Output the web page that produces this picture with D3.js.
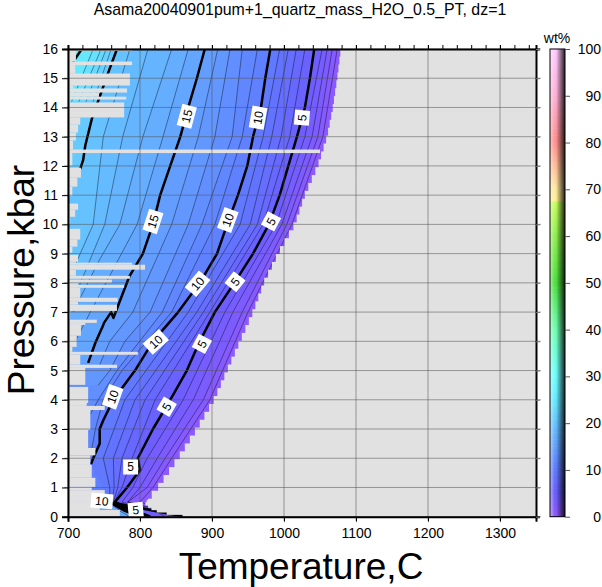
<!DOCTYPE html>
<html><head><meta charset="utf-8">
<script src="https://d3js.org/d3.v7.min.js"></script>
<style>html,body{margin:0;background:#fff}svg{display:block}text{font-family:"Liberation Sans",Arial,sans-serif;fill:#000}</style>
</head><body><svg id="c" width="602" height="587"></svg>
<script>
const titleText = "Asama20040901pum+1_quartz_mass_H2O_0.5_PT, dz=1";
const xTitle = "Temperature,C", yTitle = "Pressure,kbar", barTitle = "wt%";
const xTicks = [700,800,900,1000,1100,1200,1300];
const yTicks = d3.range(0,17);
const barTicks = [0,10,20,30,40,50,60,70,80,90,100];

const wtStops = [0,5,10,15,20,25,30,40,50,60,67.2,67.3,70,80,90,100];
const wtColors = ["#9058ff","#6a5fff","#5f7cff","#63a2ff","#66c6ff","#66ecff","#70ffff","#70ffb0","#50e040","#90f050","#c8ff60","#fff090","#ffe8a0","#ff9090","#ffb0d8","#ffccff"];

// field limit on the hot side
const edgeP = [16,15,14,13,12,11,10,9,8,7,6,5,4,3,2,1,0.45,0.3,0.15,0.08,0];
const edgeT = [1079,1074,1068,1060,1047,1029,1015,992,972,957,939,921,903,879,853,825,807,814,828,849,869];

// isopleths: pressure (kbar), temperature (C)
const rowP = [16,13,10,7,4,2,1,0.5,0.2,0];
const wt1 = [1074,1054,1011,950,897,844,818,800,844,863];
const wt2 = [1067,1047,1004,942,888,835,810,783,835,853];
const wt3 = [1060,1039,997,929,874,824,800,783,828,844];
const wt4 = [1053,1029,989,918,860,810,790,775,821,835];
const wt6 = [1029,1008,971,897,821,789,775,764,789,807];
const wt7 = [1017,996,963,888,807,775,769,763,783,800];
const wt8 = [1006,983,953,879,793,763,764,761,778,793];
const wt9 = [994,971,939,867,779,749,758,758,772,786];
const wt5P = [16,15,14,13,12,11,10,9,8,7,6,5,4,3,2,1.6,1,0.5,0.2,0];
const wt5T = [1042,1036,1029,1018,1006,994,979,957,931,904,883,865,842,818,797,800,782,765,793,814];
const wt10P = [16,15,14,13,12,11,10,9,8,7,6,5,4,3.3,3,2.5,2,1.8];
const wt10T = [981,974,968,957,949,936,921,907,883,853,818,793,763,749,744,744,735,732];
const wt10LowP = [0.5,0.2,0];
const wt10LowT = [758,779,800];
const wt11P = [16,13,10,7,5,4,3,2.3];
const wt11T = [963,942,904,844,775,749,738,733];
const wt12P = [16,13,10,7,5,4,3.5];
const wt12T = [942,928,886,831,768,742,731];
const wt13P = [16,13,10,7,6,5,4.5];
const wt13T = [925,904,867,814,779,758,742];
const wt14P = [16,13,10,7,6,5.2];
const wt14T = [908,881,844,790,758,744];
const wt15P = [16,15,14,13,12,11,10,9,8.21,6.8,7.0,6.63,6.56,5.95,5.26];
const wt15T = [890,879,867,856,842,828,818,804,785,763,760,750,749,738,728];
const wt16P = [16,13,10,7,6];
const wt16T = [867,832,796,731,710];
const wt17P = [16,13,10,8.8,7];
const wt17T = [844,804,772,744,707];
const wt18P = [16,13,10,7.8];
const wt18T = [811,776,751,714];
const wt19P = [16,13,10,9,8.2];
const wt19T = [786,749,735,717,703];
const wt20P = [16,15.2,13.6,12.7,12.2,11.9];
const wt20T = [768,756,733,724,721,717];
const wt21P = [16,14.2];
const wt21T = [760,735];
const wt22T = [753,725];
const wt23T = [746,715];
const wt24T = [735,705];
const wt25P = [16,15.55];
const wt25T = [719,707];
// light-blue sliver left of the low-pressure convergence
const lowFillP = [0.47,0.2,0];
const lowFillT = [749,775,800];
// converging low-pressure thick contours
const blobA_P = [0.47,0.33,0.13,0], blobA_T = [765,793,835,863];
const blobB_P = [0.47,0.23,0],      blobB_T = [763,790,814];
const blobC_P = [0.47,0.2,0],       blobC_T = [760,783,800];

// cold-side / missing-data rows: each row runs from the pressure to the next one, from 700 C to maskT
const maskP = [16,15.93,15.57,15.45,15.16,14.75,14.65,14.51,14.37,14.27,14.17,13.66,13.41,13.14,12.87,12.56,12.44,12.01,11.94,11.6,11.29,10.98,10.71,10.5,10.26,10.02,9.85,9.48,9.24,9.03,8.96,8.72,8.69,8.62,8.45,8.24,8.14,8.11,8.0,7.93,7.83,7.49,7.35,7.25,7.04,6.74,6.63,6.56,6.19,5.81,5.64,5.54,5.2,5.09,4.51,4.44,3.89,3.79,3.65,2.97,2.35,2.1,1.77,1.33,1.02,0.91,0.57,0.47,0.23,0];
const maskT = [789,711,789,710,786,707,782,743,781,703,778,717,714,711,707,1050,706,700,718,713,706,700,714,710,703,700,717,713,706,700,714,711,789,807,711,786,700,761,714,778,717,769,714,768,703,740,724,718,712,706,797,717,768,724,700,728,726,751,731,728,738,731,733,738,733,751,733,744,772];

// contour labels
const labelText = ["15","10","5","15","10","5","10","5","10","5","10","5","5","10","5"];
const labelT = [865,964,1025,818,922,982,880,932,822,886,762,837,787,747,794];
const labelP = [13.7,13.65,13.65,10.1,10.15,10.1,7.97,8.04,5.98,5.91,4.1,3.76,1.7,0.54,0.23];
const labelAngle = [-75,-80,-85,-72,-70,-62,-50,-52,-42,-62,-70,-60,0,5,-5];

const grayBg = "#e1e1e1";
const svg = d3.select("#c");
const x = d3.scaleLinear().domain([700,1350]).range([68,536]);
const y = d3.scaleLinear().domain([0,16]).range([516.7,49]);
const cmap = d3.scaleLinear().domain(wtStops).range(wtColors);
const edgeScale = d3.scaleLinear().domain(edgeP.slice().reverse()).range(edgeT.slice().reverse());

const fillSeries = [
 [1,rowP,wt1],[2,rowP,wt2],[3,rowP,wt3],[4,rowP,wt4],[5,wt5P,wt5T],
 [6,rowP,wt6],[7,rowP,wt7],[8,rowP,wt8],[9,rowP,wt9],
 [10,wt10P.concat(wt10LowP),wt10T.concat(wt10LowT)],
 [11,wt11P,wt11T],[12,wt12P,wt12T],[13,wt13P,wt13T],[14,wt14P,wt14T],[15,wt15P,wt15T],
 [16,wt16P,wt16T],[17,wt17P,wt17T],[18,wt18P,wt18T],[19,wt19P,wt19T],[20,wt20P,wt20T],
 [21,wt21P,wt21T],[22,wt21P,wt22T],[23,wt21P,wt23T],[24,wt21P,wt24T],[25,wt25P,wt25T],
 [16,lowFillP,lowFillT]
];
const lineSeries = [
 [1,rowP,wt1],[2,rowP,wt2],[3,rowP,wt3],[4,rowP,wt4],[5,wt5P,wt5T],
 [6,rowP,wt6],[7,rowP,wt7],[8,rowP,wt8],[9,rowP,wt9],
 [10,wt10P,wt10T],[10,wt10LowP,wt10LowT],
 [11,wt11P,wt11T],[12,wt12P,wt12T],[13,wt13P,wt13T],[14,wt14P,wt14T],[15,wt15P,wt15T],
 [16,wt16P,wt16T],[17,wt17P,wt17T],[18,wt18P,wt18T],[19,wt19P,wt19T],[20,wt20P,wt20T],
 [21,wt21P,wt21T],[22,wt21P,wt22T],[23,wt21P,wt23T],[24,wt21P,wt24T],[25,wt25P,wt25T],
 [5,blobA_P,blobA_T],[5,blobB_P,blobB_T],[5,blobC_P,blobC_T]
];

const defs = svg.append("defs");
defs.append("clipPath").attr("id","plot").append("rect")
  .attr("x",x(700)).attr("y",y(16)).attr("width",x(1350)-x(700)).attr("height",y(0)-y(16));
const sh = defs.append("linearGradient").attr("id","shade");
[[0,"#fff",.5],[.3,"#fff",0],[.4,"#000",0],[1,"#000",.85]].forEach(s=>
  sh.append("stop").attr("offset",s[0]).attr("stop-color",s[1]).attr("stop-opacity",s[2]));

const plot = svg.append("g").attr("clip-path","url(#plot)");
plot.append("rect").attr("x",x(700)).attr("y",y(16)).attr("width",x(1350)-x(700)).attr("height",y(0)-y(16)).attr("fill",cmap(0.5));

const pts = (P,T)=>P.map((p,i)=>[T[i],p]);
const lineGen = d3.line().x(d=>x(d[0])).y(d=>y(d[1]));
plot.selectAll("path.band").data(fillSeries).join("path").attr("class","band")
  .attr("fill",d=>cmap(d[0]+0.5))
  .attr("d",d=>{
    const p = pts(d[1],d[2]);
    return lineGen([[700,p[0][1]],...p,[700,p[p.length-1][1]]])+"Z";
  });
plot.selectAll("path.iso").data(lineSeries).join("path").attr("class","iso")
  .attr("fill","none").attr("stroke","#000").attr("stroke-linejoin","round")
  .attr("stroke-opacity",d=>d[0]%5===0?1:0.5)
  .attr("stroke-width",d=>d[0]%5===0?2.5:0.8)
  .attr("d",d=>lineGen(pts(d[1],d[2])));

// hot-side limit drawn in steps of the source grid
const rowEdges = d3.range(0,0.6,0.08).concat(d3.range(0.6,16,0.27),[16]);
const hotRows = d3.pairs(rowEdges);
plot.selectAll("rect.hot").data(hotRows).join("rect").attr("class","hot")
  .attr("x",d=>x(edgeScale((d[0]+d[1])/2))).attr("width",d=>x(1350)-x(edgeScale((d[0]+d[1])/2)))
  .attr("y",d=>y(d[1])-0.5).attr("height",d=>y(d[0])-y(d[1])+1).attr("fill",grayBg);
// missing rows on the cold side
plot.selectAll("rect.cold").data(maskT).join("rect").attr("class","cold")
  .attr("x",x(700)).attr("width",d=>x(d)-x(700))
  .attr("y",(d,i)=>y(maskP[i])).attr("height",(d,i)=>y(maskP[i+1])-y(maskP[i])).attr("fill",grayBg);

// grid
const grid = svg.append("g").attr("stroke","#555").attr("stroke-opacity",.55).attr("stroke-width",1);
grid.selectAll("line.v").data(d3.range(700,1351,100)).join("line").attr("class","v")
  .attr("x1",d=>x(d)).attr("x2",d=>x(d)).attr("y1",y(16)-4).attr("y2",y(0)+4);
grid.selectAll("line.h").data(yTicks).join("line").attr("class","h")
  .attr("x1",x(700)-4).attr("x2",x(1350)+5).attr("y1",d=>y(d)).attr("y2",d=>y(d));

// contour labels
const lab = svg.append("g").selectAll("g").data(labelText).join("g")
  .attr("transform",(d,i)=>`translate(${x(labelT[i])},${y(labelP[i])}) rotate(${labelAngle[i]})`);
lab.append("rect").attr("x",d=>d.length>1?-11:-7.5).attr("width",d=>d.length>1?22:15)
  .attr("y",-7.5).attr("height",15).attr("fill","#fff");
lab.append("text").attr("text-anchor","middle").attr("y",4.3).attr("font-size",12).text(d=>d);

// axes
const fmt = d3.format("d");
const ax = (g)=>{g.selectAll("text").attr("font-size",14).style("fill","#000");g.selectAll("line").attr("stroke","#000");g.select(".domain").attr("stroke","#000").attr("stroke-width",2);};
svg.append("g").attr("transform",`translate(0,${y(0)})`)
  .call(d3.axisBottom(x).tickValues(xTicks).tickSize(5).tickPadding(6).tickFormat(fmt)).call(ax);
svg.append("g").attr("transform",`translate(${x(700)},0)`)
  .call(d3.axisLeft(y).tickValues(yTicks).tickSize(6).tickPadding(4).tickFormat(fmt)).call(ax);
svg.append("g").attr("transform",`translate(0,${y(16)})`)
  .call(d3.axisTop(x).tickValues(d3.range(700,1351,20)).tickSize(4).tickFormat("")).call(ax);
svg.append("g").attr("transform",`translate(${x(1350)},0)`)
  .call(d3.axisRight(y).tickValues(yTicks).tickSize(4).tickFormat("")).call(ax)
  .call(g=>g.selectAll("line").attr("stroke","#777"));

svg.selectAll(".domain").attr("fill","none");

// colour bar
const barX = 550, barW = 15;
const bar = d3.scaleLinear().domain([0,100]).range([y(0),y(16)]);
svg.append("g").selectAll("rect").data(d3.range(0,100,0.5)).join("rect")
  .attr("x",barX).attr("width",barW).attr("y",d=>bar(d+0.5)-0.3).attr("height",d=>bar(d)-bar(d+0.5)+0.6)
  .attr("fill",d=>cmap(d));
svg.append("rect").attr("x",barX).attr("width",barW).attr("y",bar(100)).attr("height",bar(0)-bar(100)).attr("fill","url(#shade)");
svg.append("rect").attr("x",barX).attr("width",barW).attr("y",bar(100)).attr("height",bar(0)-bar(100)).attr("fill","none").attr("stroke","#000").attr("stroke-width",1);
svg.append("g").attr("transform",`translate(${barX+barW},0)`)
  .call(d3.axisRight(bar).tickValues(barTicks).tickSize(5).tickPadding(8).tickFormat(fmt))
  .call(ax).call(g=>{g.select(".domain").remove();g.selectAll("line").attr("stroke","#555");
    g.selectAll("text").attr("text-anchor","end").attr("x",36);});

// titles
svg.append("text").attr("x",300).attr("y",14.5).attr("text-anchor","middle").attr("font-size",15.9).text(titleText);
svg.append("text").attr("x",557).attr("y",43).attr("text-anchor","middle").attr("font-size",14).text(barTitle);
svg.append("text").attr("x",301).attr("y",579).attr("text-anchor","middle").attr("font-size",37).text(xTitle);
svg.append("text").attr("transform","translate(34,280) rotate(-90)").attr("text-anchor","middle").attr("font-size",37).text(yTitle);
</script></body></html>
